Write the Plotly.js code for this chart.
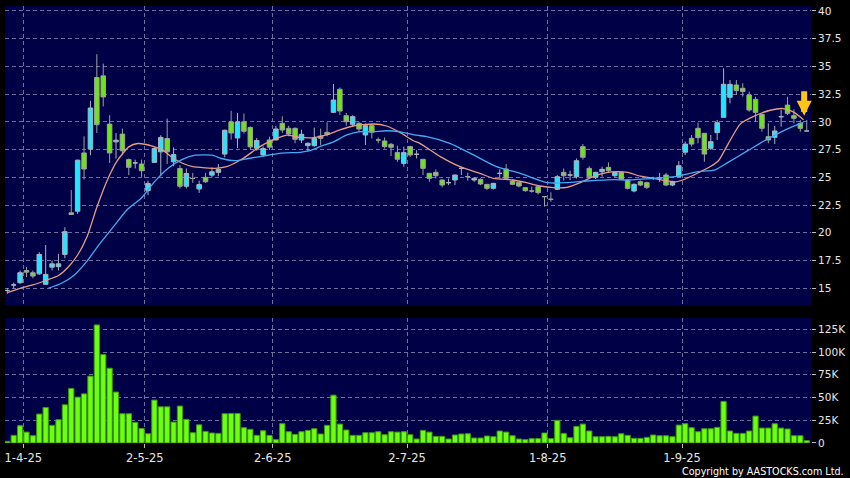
<!DOCTYPE html>
<html>
<head>
<meta charset="utf-8">
<script src="https://cdn.plot.ly/plotly-3.0.1.min.js"></script>
<style>
html,body{margin:0;padding:0;background:#000;}
#chart{width:850px;height:478px;}
</style>
</head>
<body>
<div id="chart"></div>
<script>
// Daily OHLC (index = trading day, 27-Mar-2025 .. 26-Sep-2025)
const openP = [14.8,15.3,15.5,16.6,16.4,16.3,15.35,16.9,16.95,18.05,
21.8,21.95,27.2,27.55,34.0,34.15,29.8,28.2,28.9,26.6,
26.3,26.2,23.8,26.35,27.3,28.5,26.4,25.8,24.2,24.9,
23.95,25.0,25.2,25.45,27.1,30.0,28.55,30.0,29.5,27.62,
27.02,28.37,28.37,29.87,29.42,29.42,28.37,27.86,27.86,28.73,
29.06,30.86,32.94,30.56,29.78,29.87,28.82,29.66,28.37,28.28,
27.98,27.23,26.26,27.77,27.08,26.63,25.36,25.45,24.76,24.52,
24.76,25.81,25.06,24.76,24.82,24.37,24.01,25.36,25.75,24.67,
24.55,24.07,23.77,24.16,23.26,23.02,23.92,25.45,25.21,25.06,
27.77,25.81,25.0,25.51,25.9,25.15,25.45,24.76,23.77,24.61,
24.52,24.91,24.95,25.21,24.31,25.06,27.26,28.52,29.42,28.97,
27.62,29.03,30.41,32.22,33.33,33.03,32.43,32.03,30.68,28.67,
28.61,30.47,31.52,30.56,29.87,29.18];
const highP = [15.0,15.5,16.6,16.9,16.6,18.25,18.9,17.5,18.1,20.5,
23.85,26.6,28.7,31.9,36.1,35.25,30.6,29.0,29.4,26.7,
26.6,26.6,24.7,27.7,28.8,30.3,27.7,26.1,25.8,25.4,
24.7,25.4,25.9,26.2,29.3,31.0,30.8,30.75,29.6,28.55,
27.8,28.67,29.63,30.5,29.65,29.5,29.3,28.15,29.48,29.4,
29.96,33.42,33.1,30.8,30.6,30.0,29.85,29.8,28.6,28.6,
28.1,27.85,27.77,27.85,27.45,26.65,25.4,25.72,24.8,24.9,
25.25,25.96,25.42,25.0,24.9,24.4,24.5,25.72,26.2,24.8,
24.6,24.1,24.16,24.2,23.3,23.65,25.2,25.8,25.6,26.7,
28.0,26.0,25.5,25.96,26.35,25.55,25.5,24.8,24.45,24.7,
24.6,25.05,25.4,25.4,24.7,26.47,28.22,28.82,29.93,28.97,
28.82,30.17,34.83,33.78,33.78,33.48,32.73,32.27,30.77,29.87,
29.63,31.07,32.27,31.13,30.17,30.17];
const lowP = [14.5,15.0,15.4,16.0,15.9,16.2,15.3,16.6,16.6,17.7,
21.6,21.7,24.8,27.0,29.0,31.4,26.3,26.7,27.0,25.2,
25.8,25.05,23.4,26.3,25.1,26.2,26.0,24.0,24.0,24.5,
23.6,24.5,25.0,25.1,26.8,28.4,27.65,28.95,27.5,27.4,
26.87,27.47,28.35,29.0,28.7,28.07,28.1,27.32,27.75,27.9,
28.7,30.8,30.62,29.65,29.55,29.1,27.92,28.5,28.07,27.6,
26.93,26.4,25.96,26.85,26.7,25.21,24.6,24.9,24.1,24.3,
24.3,25.21,24.7,24.6,24.3,23.85,23.9,24.9,24.9,24.3,
24.1,23.7,23.62,23.45,22.36,22.8,23.85,24.7,24.75,24.9,
26.6,24.9,24.85,25.06,25.5,25.0,24.75,23.9,23.65,24.2,
23.95,24.75,24.6,24.2,24.2,25.0,27.0,27.77,28.07,26.41,
27.47,28.37,30.41,31.67,32.43,32.28,30.92,30.02,29.12,28.07,
28.01,29.57,30.62,29.87,29.12,29.12];
const closeP = [14.8,15.3,16.4,16.45,16.1,18.05,16.25,17.2,17.2,20.1,
21.65,26.55,25.75,31.25,29.75,32.25,27.2,28.35,27.4,25.9,
26.3,25.6,24.45,27.6,28.6,27.3,27.05,24.2,25.35,24.9,
24.35,24.6,25.5,25.72,29.25,29.0,30.0,29.15,27.75,28.32,
27.6,27.72,29.36,29.27,28.91,28.43,28.88,28.07,28.52,28.52,
28.88,31.97,30.98,30.02,30.47,29.36,29.66,29.06,28.37,27.77,
27.71,26.63,27.23,27.02,27.08,25.81,24.91,25.15,24.31,24.52,
25.21,25.81,25.06,24.91,24.4,24.01,24.46,25.36,24.91,24.37,
24.22,23.8,23.77,23.62,23.26,23.02,25.06,25.15,25.21,26.5,
26.81,25.06,25.45,25.72,25.6,25.45,24.82,24.01,24.37,24.31,
24.1,24.91,24.95,24.31,24.61,26.05,28.0,28.0,28.58,27.1,
28.22,29.93,33.39,33.39,32.82,32.73,31.07,30.86,29.42,28.37,
29.18,30.47,30.77,30.32,29.42,29.18];
// Volume in thousands of shares
const volumeK = [1.8,8.4,19,12,8,31.8,39,19.4,25.6,42,
60,50.4,54,73.5,129.8,97.2,82.2,56,32.2,32.2,
22.7,16,10.2,47.2,39.8,39.8,23,40.6,26,11.3,
20,12.8,11,10.6,32.2,32.5,32.5,16.8,15,8.4,
13.5,8.4,3.7,21.2,12.4,9.5,12.4,13.9,15.7,9.9,
19.4,52.6,20.8,14.3,8.4,8.4,11.3,11.3,12.4,9.1,
12.4,12,12.4,9.1,4.4,13.9,12,7.3,7.3,4.4,
8.8,9.9,10.2,5.5,5.5,7.7,6.9,13.2,12,8,
4.4,3.7,4.8,4.8,11,4.8,24.9,10.6,5.8,18.3,
20.8,13.2,6.9,6.9,7.3,6.9,10.2,8.4,5.1,5.1,
6.2,8.8,8,8,6.9,19.7,21.2,16.8,12.4,15.7,
15.7,17.2,45.7,13.2,10.6,10.6,13.2,29.6,16.4,16.4,
21.2,16.4,15.4,8,8,2.6];
// Moving averages (position in trading days, value)
const ma10X = [0,2,4,6,8,9.5,11,12.5,14,15.6,17.2,19,20.4,22.8,24.3,26,27.5,29,31,32.5,
34.3,36.9,39.5,41.6,43.7,45.8,47.9,49.9,52,54.1,57.2,59.3,61.4,63.5,64.5,67.7,70.8,73.9,76,79.1,
81.2,83.3,85.4,87.5,89.6,91.6,93.7,95.4,97,99,101,104.5,106,108,110,111.2,112.7,114.6,116.7,119.3,
121.3,122.9,124.5];
const ma10Y = [14.6,15.0,15.3,15.7,16.15,16.9,18.0,19.7,22.3,24.7,26.5,27.75,28.05,27.8,27.45,26.7,26.25,25.96,25.85,25.81,
25.96,26.72,27.77,28.37,28.8,28.6,28.58,28.82,29.27,29.63,29.81,29.63,29.05,28.3,28.07,26.87,25.96,25.36,24.91,24.76,
24.52,24.22,24.07,24.1,24.52,25.06,25.42,25.51,25.45,25.1,24.9,24.6,24.85,25.4,26.0,26.5,28.0,29.8,30.5,31.05,
31.2,30.9,30.2];
const ma20X = [6.4,8.5,10.3,12.4,14.5,16.6,18.7,21,23.1,25.2,27.3,29.4,32,33.5,35.6,37.7,39.8,42.6,45.8,47.3,
48.9,51,53.1,55.2,57.2,59.3,61.4,64,65.6,69.2,72.9,76.5,80.2,84.4,87.5,90.6,94.8,96.9,101,104.4,
107.8,110.7,112.7,115.9,119,122.1,124.5];
const ma20Y = [15.0,15.45,16.1,17.4,19.05,20.55,22.06,23.16,24.66,25.85,26.6,27.0,27.0,26.7,26.5,26.7,26.9,27.17,27.26,27.4,
27.77,28.2,28.82,29.12,29.12,29.2,29.1,28.8,28.67,28.07,27.02,25.96,25.36,24.52,24.52,24.67,24.8,24.76,24.91,25.06,
25.5,25.68,26.35,27.45,28.5,29.4,29.95];
// Axis labels
const monthStartIdx = [3,22,42,63,85,106];
const monthLabels = ['1-4-25','2-5-25','2-6-25','2-7-25','1-8-25','1-9-25'];
const priceTicks = [15,17.5,20,22.5,25,27.5,30,32.5,35,37.5,40];
const volTicks = [0,25,50,75,100,125];
const volTickText = ['0','25K','50K','75K','100K','125K'];

const days = openP.map((_, i) => i);
const gridX = monthStartIdx.map(v => v - 0.5);

const GRID = '#6e6ea0';
const TXT = '#e6e6e6';
const tickFont = {family: 'DejaVu Sans', size: 10.5, color: TXT};

const traces = [
  {
    type: 'candlestick', x: days, open: openP, high: highP, low: lowP, close: closeP,
    xaxis: 'x', yaxis: 'y',
    increasing: {fillcolor: '#1ee8ff', line: {color: '#a8b4c0', width: 1}},
    decreasing: {fillcolor: '#6ee614', line: {color: '#9aa49a', width: 1}},
    whiskerwidth: 0, hoverinfo: 'skip'
  },
  {
    type: 'scatter', mode: 'lines', x: ma10X, y: ma10Y, xaxis: 'x', yaxis: 'y',
    line: {color: '#e89c84', width: 1.3, shape: 'spline', smoothing: 0.6}, hoverinfo: 'skip'
  },
  {
    type: 'scatter', mode: 'lines', x: ma20X, y: ma20Y, xaxis: 'x', yaxis: 'y',
    line: {color: '#45aaf5', width: 1.3, shape: 'spline', smoothing: 0.6}, hoverinfo: 'skip'
  },
  {
    type: 'bar', x: days, y: volumeK, xaxis: 'x2', yaxis: 'y2',
    marker: {color: '#6cff10', line: {color: '#3c9a10', width: 1}},
    width: 0.82, hoverinfo: 'skip'
  }
];

const layout = {
  width: 850, height: 478,
  paper_bgcolor: '#000000', plot_bgcolor: '#000046',
  margin: {l: 5, r: 39, t: 6, b: 35},
  showlegend: false, hovermode: false, dragmode: false,
  boxgap: 0.12, boxgroupgap: 0.2,
  xaxis: {
    domain: [0, 1], anchor: 'y', range: [-0.36, 125.67],
    tickvals: gridX, showticklabels: false, ticks: '',
    showgrid: true, gridcolor: GRID, griddash: '4px,3px', gridwidth: 1,
    zeroline: false, showline: false, rangeslider: {visible: false}
  },
  yaxis: {
    domain: [0.3135, 1], anchor: 'x', range: [13.40, 40.45], side: 'right',
    tickvals: priceTicks, ticktext: priceTicks.map(String),
    ticks: 'outside', ticklen: 4, tickcolor: '#bbbbbb', tickfont: tickFont,
    showgrid: true, gridcolor: GRID, griddash: '4px,3px', gridwidth: 1,
    zeroline: false, showline: false
  },
  xaxis2: {
    domain: [0, 1], anchor: 'y2', range: [-0.36, 125.67],
    tickvals: gridX, ticktext: monthLabels,
    ticks: 'outside', ticklen: 4, tickcolor: '#bbbbbb',
    tickfont: {family: 'DejaVu Sans', size: 11.5, color: TXT},
    showgrid: true, gridcolor: GRID, griddash: '4px,3px', gridwidth: 1,
    zeroline: false, showline: false
  },
  yaxis2: {
    domain: [0, 0.286], anchor: 'x2', range: [0, 137.4], side: 'right',
    tickvals: volTicks, ticktext: volTickText,
    ticks: 'outside', ticklen: 4, tickcolor: '#bbbbbb', tickfont: tickFont,
    showgrid: true, gridcolor: GRID, griddash: '4px,3px', gridwidth: 1,
    zeroline: false, showline: false
  },
  annotations: [
    {
      xref: 'x', yref: 'y', x: 124.6, y: 30.55, ax: 0, ay: -26,
      showarrow: true, arrowhead: 2, arrowsize: 0.5, arrowwidth: 6,
      arrowcolor: '#ffc414', text: ''
    },
    {
      xref: 'paper', yref: 'paper', x: 1.0434, y: -0.066,
      xanchor: 'right', yanchor: 'middle', showarrow: false,
      text: 'Copyright by AASTOCKS.com Ltd.',
      font: {family: 'DejaVu Sans', size: 9.6, color: '#ffffff'}
    }
  ]
};

Plotly.newPlot('chart', traces, layout, {displayModeBar: false, staticPlot: true});
</script>
</body>
</html>
